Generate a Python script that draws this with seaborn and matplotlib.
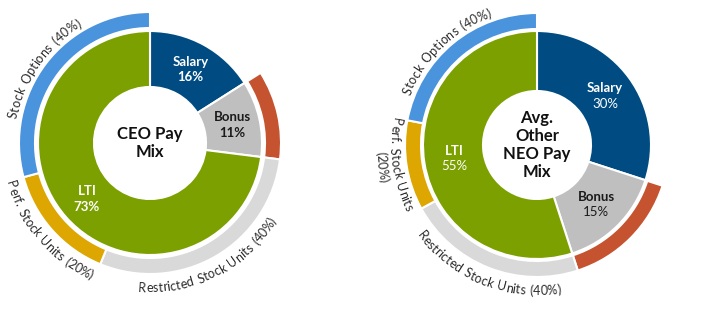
import numpy as np
import matplotlib
matplotlib.use("Agg")
import matplotlib.pyplot as plt
import seaborn as sns
from matplotlib.font_manager import FontProperties, findfont, get_font

# ---------------- data ----------------
segments = ["Salary", "Bonus", "LTI"]
ceo_mix = [16, 11, 73]
neo_mix = [30, 15, 55]
lti_parts = ["Restricted Stock Units", "Perf. Stock Units", "Stock Options"]
lti_split = [40, 20, 40]
titles = ["CEO Pay\nMix", "Avg.\nOther\nNEO Pay\nMix"]

# ---------------- style ----------------
sns.set_theme(style="white")
FONT = ["Lato", "DejaVu Sans"]
plt.rcParams["font.family"] = FONT

inner_colors = ["#004C82", "#BFBFBF", "#7BA000"]
outer_colors = ["#C5532F", "#D9D9D9", "#DDA600", "#4A93DD"]
inner_text_colors = ["white", "#1A1A1A", "white"]

DPI = 100
W, H = 720, 327

fig = plt.figure(figsize=(W / DPI, H / DPI), dpi=DPI, facecolor="white")
ax = fig.add_axes([0, 0, 1, 1])


def advances(s, fp):
    font = get_font(findfont(fp))
    font.set_size(fp.get_size_in_points(), 72)
    out = []
    for c in s:
        g = font.load_char(ord(c))
        a = g.linearHoriAdvance / 65536.0 * DPI / 72.0
        if c == " ":
            a *= 1.5
        out.append(a + 0.1)
    return out


def arc_text(ax, cx, cy, r, theta_c, s, fontsize, direction, color="#2B2B2B"):
    fp = FontProperties(family=FONT, size=fontsize)
    widths = advances(s, fp)
    total = sum(widths)
    span = np.degrees(total / r)
    pos = 0.0
    for ch, wch in zip(s, widths):
        c = pos + wch / 2.0
        pos += wch
        if ch == " ":
            continue
        off = np.degrees(c / r)
        if direction == "cw":
            th = theta_c - span / 2 + off
            rot = -th
        else:
            th = theta_c + span / 2 - off
            rot = 180 - th
        phi = np.radians(90 - th)
        x = cx + r * np.cos(phi)
        y = cy + r * np.sin(phi)
        ax.text(x, y, ch, fontproperties=fp, color=color, rotation=rot,
                rotation_mode="anchor", ha="center", va="baseline")


charts = [
    dict(mix=ceo_mix, title=titles[0], cx=150, cy=H - 143, r_in=112, hole=56,
         r_out=131, ring_w=16, pct_weight="bold",
         arcs=[  # (label lines, center angle, baseline radius, direction)
             ([f"{lti_parts[2]} ({lti_split[2]}%)"], 305, 135, "cw"),
             ([f"{lti_parts[1]} ({lti_split[1]}%)"], 229, 149, "ccw"),
             ([f"{lti_parts[0]} ({lti_split[0]}%)"], 153, 149, "ccw"),
         ]),
    dict(mix=neo_mix, title=titles[1], cx=537, cy=H - 145, r_in=114, hole=54,
         r_out=132, ring_w=16, pct_weight="normal",
         arcs=[
             ([f"{lti_parts[2]} ({lti_split[2]}%)"], 316, 136, "cw"),
             ([lti_parts[1], f"({lti_split[1]}%)"], 262, 147, "ccw"),
             ([f"{lti_parts[0]} ({lti_split[0]}%)"], 202, 150, "ccw"),
         ]),
]

for ch in charts:
    cx, cy = ch["cx"], ch["cy"]
    mix = ch["mix"]
    # inner donut
    wedges, _ = ax.pie(mix, radius=ch["r_in"], center=(cx, cy), startangle=90,
                       counterclock=False, colors=inner_colors,
                       wedgeprops=dict(width=ch["r_in"] - ch["hole"],
                                       edgecolor="white", linewidth=1.5))
    r_lab = (ch["r_in"] + ch["hole"]) / 2
    for w, name, val, tc in zip(wedges, segments, mix, inner_text_colors):
        mid = np.radians((w.theta1 + w.theta2) / 2)
        lx, ly = cx + r_lab * np.cos(mid), cy + r_lab * np.sin(mid)
        ax.text(lx, ly + 1.5, name, ha="center", va="bottom", color=tc,
                fontsize=9.5, fontweight="bold")
        ax.text(lx, ly - 2, f"{val}%", ha="center", va="top", color=tc,
                fontsize=9.5, fontweight=ch["pct_weight"])
    # outer ring
    lti = mix[2]
    outer_vals = [mix[0], mix[1]] + [lti * p / 100 for p in lti_split]
    owedges, _ = ax.pie(outer_vals, radius=ch["r_out"], center=(cx, cy),
                        startangle=90, counterclock=False,
                        colors=["white"] + outer_colors,
                        wedgeprops=dict(width=ch["ring_w"], edgecolor="white",
                                        linewidth=1.5))
    owedges[0].set_visible(False)
    # centre title
    ax.text(cx, cy, ch["title"], ha="center", va="center", fontsize=12,
            fontweight="bold", color="#111111", linespacing=1.15)
    # arc labels
    for lines, th_c, r_base, direc in ch["arcs"]:
        for k, line in enumerate(lines):
            rr = r_base + (14 * k if direc == "ccw" else -14 * k)
            arc_text(ax, cx, cy, rr, th_c, line, 9, direc)

ax.set_xlim(0, W)
ax.set_ylim(0, H)
ax.set_aspect("equal")
ax.axis("off")

fig.savefig("out.png", dpi=DPI, facecolor="white")
